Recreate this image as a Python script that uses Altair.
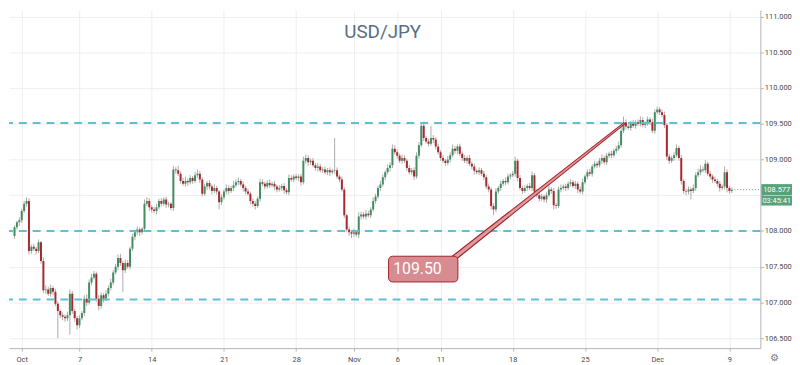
import altair as alt
import pandas as pd

# ---------------- data (4h candles, 6 per trading day) ----------------
first_index = -3          # three candles of Sep 30 are visible
first_open = 107.93
closes = [
    108.05, 108.12, 108.15,
    108.28, 108.38, 108.42, 107.72, 107.78, 107.75,
    107.72, 107.84, 107.58, 107.17, 107.18, 107.12,
    107.20, 107.15, 106.98, 106.88, 106.82, 106.80,
    106.78, 106.82, 107.12, 106.88, 106.78, 106.68,
    106.78, 106.85, 107.05, 107.00, 107.28, 107.35,
    107.40, 107.05, 106.95, 107.10, 107.05, 107.12,
    107.20, 107.28, 107.42, 107.50, 107.62, 107.55,
    107.45, 107.55, 107.50, 107.75, 107.92, 107.98,
    108.02, 107.98, 108.03, 108.38, 108.42, 108.33,
    108.30, 108.28, 108.33, 108.42, 108.38, 108.44,
    108.37, 108.38, 108.32, 108.86, 108.85, 108.80,
    108.70, 108.66, 108.70, 108.68, 108.74, 108.70,
    108.78, 108.80, 108.72, 108.52, 108.62, 108.67,
    108.62, 108.56, 108.60, 108.55, 108.40, 108.47,
    108.55, 108.60, 108.56, 108.60, 108.64, 108.68,
    108.70, 108.65, 108.60, 108.55, 108.52, 108.42,
    108.38, 108.35, 108.45, 108.68, 108.66, 108.62,
    108.67, 108.64, 108.66, 108.62, 108.58, 108.60,
    108.63, 108.57, 108.54, 108.74, 108.72, 108.76,
    108.74, 108.76, 108.68, 108.98, 109.02, 108.96,
    108.98, 108.92, 108.88, 108.90, 108.85, 108.86,
    108.82, 108.85, 108.82, 108.84, 108.85, 108.76,
    108.72, 108.58, 108.22, 108.02, 107.98, 107.96,
    107.98, 107.95, 108.20, 108.23, 108.20, 108.24,
    108.22, 108.30, 108.42, 108.48, 108.60, 108.65,
    108.75, 108.82, 108.88, 108.92, 109.15, 109.10,
    109.05, 108.98, 109.02, 108.98, 108.88, 108.82,
    108.85, 108.76, 109.05, 109.20, 109.47, 109.30,
    109.25, 109.22, 109.30, 109.28, 109.18, 109.10,
    109.02, 108.98, 108.95, 109.00, 109.06, 109.15,
    109.12, 109.18, 109.08, 109.02, 108.98, 109.02,
    108.94, 108.90, 108.84, 108.82, 108.85, 108.80,
    108.75, 108.62, 108.58, 108.35, 108.30, 108.55,
    108.60, 108.66, 108.70, 108.68, 108.76, 108.78,
    108.80, 108.98, 108.74, 108.60, 108.56, 108.60,
    108.63, 108.60, 108.78, 108.55, 108.50, 108.45,
    108.48, 108.44, 108.50, 108.58, 108.56, 108.36,
    108.35, 108.58, 108.60, 108.62, 108.60, 108.66,
    108.68, 108.63, 108.66, 108.58, 108.55, 108.68,
    108.76, 108.82, 108.80, 108.90, 108.94, 108.92,
    108.98, 109.02, 108.96, 109.05, 109.08, 109.06,
    109.12, 109.15, 109.20, 109.40, 109.52, 109.46,
    109.44, 109.50, 109.47, 109.52, 109.50, 109.55,
    109.48, 109.50, 109.56, 109.52, 109.40, 109.66,
    109.70, 109.66, 109.62, 109.48, 109.04, 108.98,
    109.02, 109.06, 109.16, 109.02, 108.70, 108.56,
    108.55, 108.58, 108.56, 108.60, 108.78, 108.82,
    108.86, 108.85, 108.94, 108.80, 108.76, 108.72,
    108.70, 108.66, 108.60, 108.62, 108.82, 108.60,
    108.56, 108.577,
]
# upper / lower wick lengths beyond the body, in hundredths of a yen
wick_hi = [
    3, 2, 4,
    3, 4, 5, 4, 3, 4,   3, 4, 2, 5, 6, 4,   5, 3, 4, 3, 2, 4,   3, 5, 6, 4, 3, 3,
    4, 3, 5, 6, 4, 5,   4, 3, 5, 4, 3, 5,   4, 5, 3, 4, 5, 6,   3, 5, 4, 3, 4, 3,
    4, 3, 2, 6, 5, 4,   3, 4, 5, 3, 4, 3,   4, 3, 2, 5, 3, 6,   3, 4, 6, 3, 4, 3,
    5, 6, 4, 3, 4, 3,   4, 3, 5, 3, 2, 4,   3, 5, 4, 3, 6, 4,   5, 3, 4, 3, 4, 3,
    3, 4, 3, 5, 4, 3,   4, 5, 3, 4, 3, 4,   3, 4, 3, 5, 4, 3,   4, 3, 4, 6, 5, 4,
    3, 4, 3, 5, 4, 3,   4, 3, 4, 3, 45, 4,  3, 4, 3, 2, 4, 3,   5, 3, 6, 4, 3, 5,
    4, 3, 5, 4, 3, 5,   4, 3, 5, 4, 6, 5,   4, 3, 5, 4, 3, 4,   3, 4, 5, 4, 5, 6,
    3, 4, 17, 4, 3, 4,  3, 4, 3, 5, 4, 6,   4, 3, 4, 3, 4, 3,   4, 3, 4, 3, 4, 3,
    4, 3, 4, 3, 4, 5,   3, 4, 3, 5, 4, 3,   4, 6, 3, 4, 3, 4,   3, 4, 5, 3, 4, 3,
    4, 3, 4, 5, 3, 4,   3, 4, 5, 3, 4, 3,   4, 3, 4, 3, 4, 5,   3, 4, 5, 3, 4, 3,
    4, 5, 3, 4, 3, 4,   3, 4, 5, 6, 8, 4,   3, 4, 5, 3, 4, 5,   4, 3, 4, 3, 5, 4,
    4, 3, 4, 5, 3, 4,   3, 4, 5, 3, 4, 3,   3, 4, 3, 5, 4, 5,   6, 4, 5, 3, 4, 3,
    4, 3, 4, 3, 8, 4,
    3, 3,
]
wick_lo = [
    4, 3, 5,
    4, 3, 4, 5, 4, 3,   5, 3, 4, 4, 5, 3,   4, 5, 3, 38, 4, 5,  5, 4, 27, 4, 5, 6,
    4, 3, 4, 5, 3, 4,   3, 4, 6, 4, 5, 3,   4, 3, 4, 3, 5, 4,   30, 4, 3, 4, 3, 5,
    4, 5, 3, 4, 3, 5,   4, 3, 5, 3, 4, 3,   5, 4, 3, 4, 5, 3,   4, 3, 4, 5, 3, 4,
    3, 4, 5, 4, 3, 5,   4, 5, 3, 4, 10, 4,  3, 4, 5, 3, 4, 3,   4, 3, 5, 4, 3, 5,
    4, 5, 3, 4, 3, 4,   3, 4, 3, 5, 4, 3,   4, 5, 3, 4, 3, 4,   3, 4, 5, 3, 4, 5,
    4, 3, 4, 5, 3, 4,   3, 4, 5, 3, 4, 3,   4, 3, 4, 3, 5, 6,   4, 3, 5, 4, 3, 4,
    3, 4, 3, 4, 3, 4,   3, 4, 3, 5, 4, 3,   4, 3, 4, 3, 4, 3,   4, 5, 3, 4, 3, 4,
    3, 4, 3, 5, 4, 3,   4, 3, 4, 3, 4, 3,   4, 5, 3, 4, 3, 4,   3, 4, 5, 3, 4, 3,
    4, 3, 4, 5, 8, 4,   3, 4, 3, 4, 3, 4,   3, 4, 5, 3, 4, 3,   4, 3, 4, 5, 3, 4,
    3, 4, 5, 3, 4, 6,   4, 3, 4, 3, 4, 3,   4, 3, 4, 5, 3, 4,   3, 4, 3, 4, 3, 4,
    3, 4, 3, 4, 3, 4,   3, 4, 3, 4, 3, 4,   3, 4, 3, 4, 3, 4,   3, 4, 3, 4, 3, 4,
    3, 4, 3, 4, 5, 4,   3, 4, 3, 4, 5, 4,   5, 4, 12, 3, 4, 3,  4, 3, 4, 3, 4, 5,
    3, 4, 5, 3, 4, 6,
    4, 3,
]

candles_per_day = 6
tick_days = [0, 4, 9, 14, 19, 23, 26, 29, 34, 39, 44, 49]
tick_labels = ["Oct", "7", "14", "21", "28", "Nov", "6", "11", "18", "25", "Dec", "9"]
price_ticks = [106.5, 107.0, 107.5, 108.0, 108.5, 109.0, 109.5, 110.0, 110.5, 111.0]
hidden_price_label = 108.5   # covered by the last-price tag in the reference
levels = [109.51, 108.00, 107.04]
last_price = 108.577
countdown = "03:45:41"
title_text = "USD/JPY"
callout_text = "109.50"
callout_box = {"i1": 152.4, "i2": 181.2, "p1": 107.646, "p2": 107.286}
callout_label = {"i": 164.4, "p": 107.466}
callout_wedge_i = [179.5, 250.1]
callout_wedge_p = [107.62, 109.50]

# ---------------- build table ----------------
rows = []
prev = first_open
for k, c in enumerate(closes):
    o = prev
    rows.append({
        "i": first_index + k,
        "open": o,
        "close": c,
        "high": max(o, c) + wick_hi[k] / 100.0,
        "low": min(o, c) - wick_lo[k] / 100.0,
        "dir": "up" if c >= o else "down",
    })
    prev = c
df = pd.DataFrame(rows)

W, H = 760, 342
X_DOMAIN = [-3.24, 304.8]
Y_DOMAIN = [106.36, 111.09]

GREEN = "#428c60"
RED = "#a8282f"
WICK = "#ababab"
LEVEL = "#5cc2d2"
AXIS_GRAY = "#b4b4b4"
LABEL = "#4a4a4a"
GRID = "#eeeeee"
BOX_GREEN = "#58a27a"

tick_vals = [d * candles_per_day for d in tick_days]
x_label_expr = "[" + ",".join("'%s'" % t for t in tick_labels) + "][indexof([" + \
    ",".join(str(v) for v in tick_vals) + "], datum.value)]"
y_label_expr = "abs(datum.value - %s) < 0.001 ? '' : format(datum.value, '.3f')" % hidden_price_label

xscale = alt.Scale(domain=X_DOMAIN, nice=False, zero=False)
yscale = alt.Scale(domain=Y_DOMAIN, nice=False, zero=False)

x_axis = alt.Axis(values=tick_vals, labelExpr=x_label_expr, title=None, grid=True,
                  gridColor=GRID, domainColor=AXIS_GRAY, tickColor=AXIS_GRAY,
                  tickSize=3, labelFontSize=7.5, labelColor=LABEL, labelFont="Roboto",
                  labelPadding=5, labelFlush=False, labelOverlap=False)
y_axis = alt.Axis(orient="right", values=price_ticks, labelExpr=y_label_expr, title=None,
                  grid=True, gridColor=GRID, domainColor=AXIS_GRAY, tickColor=AXIS_GRAY,
                  tickSize=3, labelFontSize=7.5, labelColor=LABEL, labelFont="Roboto",
                  labelPadding=1, labelOverlap=False, labelFlush=False)


def X(field, **kw):
    return alt.X(field, scale=xscale, axis=x_axis, **kw)


def Y(field, **kw):
    return alt.Y(field, scale=yscale, axis=y_axis, **kw)


wicks = alt.Chart(df).mark_rule(color=WICK, strokeWidth=1, clip=True).encode(
    x=X("i:Q"), y=Y("low:Q"), y2="high:Q",
)
bodies = alt.Chart(df).mark_bar(width=2, clip=True).encode(
    x=X("i:Q"),
    y=Y("open:Q"),
    y2="close:Q",
    color=alt.Color("dir:N", scale=alt.Scale(domain=["up", "down"], range=[GREEN, RED]),
                    legend=None),
)

lv = alt.Chart(pd.DataFrame({"p": levels})).mark_rule(
    color=LEVEL, strokeWidth=2, strokeDash=[8, 6]).encode(y=Y("p:Q"))

wedge_df = pd.DataFrame({"i": callout_wedge_i, "p": callout_wedge_p,
                         "w": [6.0, 2.5], "w2": [3.6, 0.6]})
wedge_outer = alt.Chart(wedge_df).mark_trail(color="#a3222b").encode(
    x=X("i:Q"), y=Y("p:Q"), size=alt.Size("w:Q", scale=None, legend=None))
wedge_inner = alt.Chart(wedge_df).mark_trail(color="#dc9a9d").encode(
    x=X("i:Q"), y=Y("p:Q"), size=alt.Size("w2:Q", scale=None, legend=None))

box = alt.Chart(pd.DataFrame([callout_box])).mark_rect(
    cornerRadius=4, fill="#d68c90", stroke="#a3222b", strokeWidth=1).encode(
    x=X("i1:Q"), x2="i2:Q", y=Y("p1:Q"), y2="p2:Q")
box_text = alt.Chart(pd.DataFrame([dict(callout_label, t=callout_text)])).mark_text(
    fontSize=16, color="white", font="Roboto").encode(
    x=X("i:Q"), y=Y("p:Q"), text="t:N")

title = alt.Chart(pd.DataFrame({"t": [title_text]})).mark_text(
    fontSize=19, color="#5a6d7f", font="Roboto").encode(
    x=alt.value(378), y=alt.value(22), text="t:N")

last_line = alt.Chart(pd.DataFrame({"i": [first_index + len(closes)], "p": [last_price]})).mark_rule(
    color=BOX_GREEN, strokeDash=[1, 2], strokeWidth=1).encode(
    x=X("i:Q"), x2=alt.value(W), y=Y("p:Q"))

tag_df = pd.DataFrame({
    "p1": [last_price + 0.078, last_price - 0.082],
    "p2": [last_price - 0.075, last_price - 0.222],
    "pc": [last_price, last_price - 0.152],
    "t": ["%.3f" % last_price, countdown],
})
tags = alt.Chart(tag_df).mark_rect(color=BOX_GREEN).encode(
    x=alt.value(W + 1), x2=alt.value(W + 32), y=Y("p1:Q"), y2="p2:Q")
tag_text = alt.Chart(tag_df).mark_text(fontSize=7.5, color="white", font="Roboto").encode(
    x=alt.value(W + 16.5), y=Y("pc:Q"), text="t:N")

gear = alt.Chart(pd.DataFrame({"t": ["\u2699"]})).mark_text(
    fontSize=10, color="#777777").encode(x=alt.value(W + 14), y=alt.value(H + 10), text="t:N")

chart = alt.layer(
    wicks, bodies, lv, wedge_outer, wedge_inner, box, box_text,
    title, last_line, tags, tag_text, gear,
).properties(width=W, height=H, padding=0, background="white").configure_view(stroke=None)

chart.save("out.html", embed_options={"renderer": "svg", "actions": False})
